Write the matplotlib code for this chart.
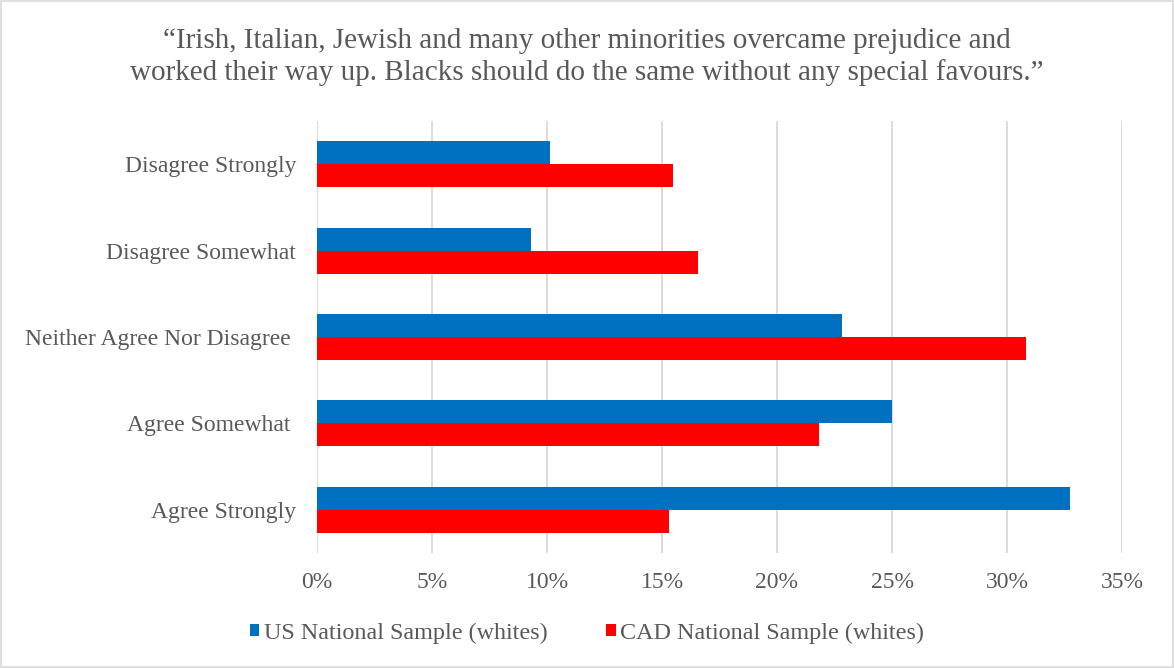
import matplotlib.pyplot as plt
import numpy as np
from matplotlib.patches import Rectangle
from matplotlib.ticker import PercentFormatter

plt.rcParams['font.family'] = ['Liberation Serif', 'DejaVu Serif']

# Survey responses (percent of respondents), listed bottom to top
categories = ["Agree Strongly", "Agree Somewhat ", "Neither Agree Nor Disagree ",
              "Disagree Somewhat", "Disagree Strongly"]
us_whites = [32.75, 24.98, 22.82, 9.29, 10.13]
cad_whites = [15.29, 21.82, 30.84, 16.58, 15.48]

title = ("\u201cIrish, Italian, Jewish and many other minorities overcame prejudice and\n"
         "worked their way up. Blacks should do the same without any special favours.\u201d")

text_col = '#595959'
grid_col = '#d9d9d9'

fig = plt.figure(figsize=(11.74, 6.68), dpi=100)
ax = fig.add_axes([317 / 1174, 1 - 553 / 668, (1122 - 317) / 1174, (553 - 121) / 668])

y = np.arange(len(categories))
h = 0.266
ax.barh(y + h / 2, us_whites, height=h, color='#0070C0', label='US National Sample (whites)')
ax.barh(y - h / 2, cad_whites, height=h, color='#FF0000', label='CAD National Sample (whites)')

ax.set_xlim(0, 35)
ax.set_ylim(-0.5, len(categories) - 0.5)
ax.set_xticks(np.arange(0, 36, 5))
ax.xaxis.set_major_formatter(PercentFormatter(decimals=0))
ax.set_yticks(y)
ax.set_yticklabels(categories)
ax.tick_params(axis='both', length=0, colors=text_col, labelsize=17)
ax.tick_params(axis='x', pad=14)
ax.tick_params(axis='y', pad=15)
ax.grid(axis='x', color=grid_col, linewidth=1.3)
ax.set_axisbelow(True)
for s in ax.spines.values():
    s.set_visible(False)

fig.text(0.5, 1 - 57 / 668, title, ha='center', va='center', fontsize=21,
         color=text_col, linespacing=1.22)

leg = fig.legend(loc='center', bbox_to_anchor=(0.5, 1 - 633 / 668), ncol=2, frameon=False,
                 fontsize=17.4, handlelength=0.4, handleheight=0.4, handletextpad=0.2,
                 columnspacing=2.4)
for t in leg.get_texts():
    t.set_color(text_col)

# thin border round the whole chart
fig.patches.append(Rectangle((0.001, 0.001), 0.998, 0.997, transform=fig.transFigure,
                             fill=False, edgecolor=grid_col, linewidth=1.2))

fig.savefig('out.png', dpi=100)
